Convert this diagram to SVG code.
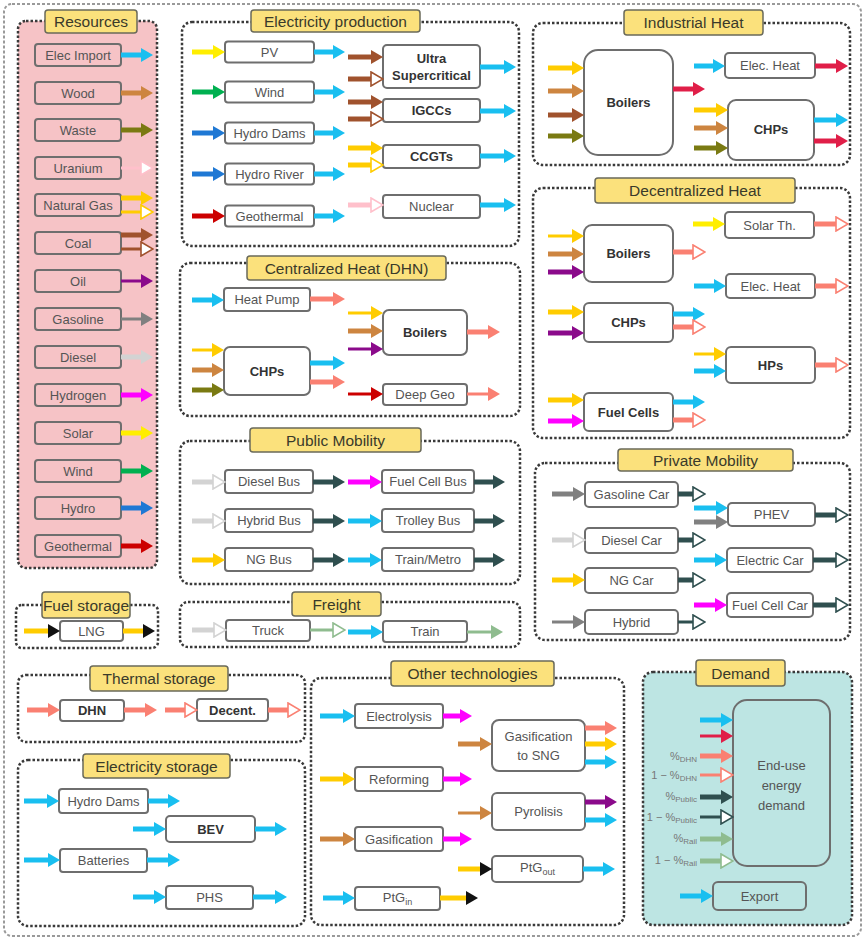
<svg xmlns="http://www.w3.org/2000/svg" width="865" height="941" viewBox="0 0 865 941">
<style>
.grp{fill:none;stroke:#3a3a3a;stroke-width:2.5;stroke-dasharray:2.5 2}
.ttl{fill:#fbe17c;stroke:#6a6a5a;stroke-width:1.5}
.ttx{font-family:"Liberation Sans",Arial,sans-serif;font-size:15.5px;fill:#3a3a2a;text-anchor:middle}
.n{fill:#fff;stroke:#6e6e6e;stroke-width:2}
.np{fill:#f6c3c6;stroke:#6e6e6e;stroke-width:2}
.nd{fill:#bde5e3;stroke:#6e6e6e;stroke-width:2}
.l{font-family:"Liberation Sans",Arial,sans-serif;font-size:13px;fill:#555;text-anchor:middle}
.b{font-family:"Liberation Sans",Arial,sans-serif;font-size:13px;font-weight:bold;fill:#333;text-anchor:middle}
.pc{font-family:"Liberation Sans",Arial,sans-serif;font-size:11px;fill:#777;text-anchor:end}
.a{fill:none;stroke-width:5}
.t{fill:none;stroke-width:3}
.elec{stroke:#19bff0}.wood{stroke:#cd8540}.waste{stroke:#7a7a12}.uran{stroke:#ffc0cb}.gas{stroke:#ffcc00}
.coal{stroke:#a0522d}.oil{stroke:#8b0a8b}.gasl{stroke:#808080}.dies{stroke:#d3d3d3}.h2{stroke:#ff00ff}
.sol{stroke:#ffee00}.wind{stroke:#00b050}.hydro{stroke:#1f78d4}.geo{stroke:#cc0000}.hth{stroke:#e01e48}
.lth{stroke:#fa8072}.mob{stroke:#2f4f4f}.frt{stroke:#8fbc8f}
</style>
<defs>
<marker id="f-elec" viewBox="0 0 12 14" refX="3" refY="7" markerWidth="12" markerHeight="14" markerUnits="userSpaceOnUse" orient="auto"><path d="M0 0L12 7L0 14z" fill="#19bff0"/></marker>
<marker id="f-wood" viewBox="0 0 12 14" refX="3" refY="7" markerWidth="12" markerHeight="14" markerUnits="userSpaceOnUse" orient="auto"><path d="M0 0L12 7L0 14z" fill="#cd8540"/></marker>
<marker id="f-waste" viewBox="0 0 12 14" refX="3" refY="7" markerWidth="12" markerHeight="14" markerUnits="userSpaceOnUse" orient="auto"><path d="M0 0L12 7L0 14z" fill="#7a7a12"/></marker>
<marker id="f-gas" viewBox="0 0 12 14" refX="3" refY="7" markerWidth="12" markerHeight="14" markerUnits="userSpaceOnUse" orient="auto"><path d="M0 0L12 7L0 14z" fill="#ffcc00"/></marker>
<marker id="f-coal" viewBox="0 0 12 14" refX="3" refY="7" markerWidth="12" markerHeight="14" markerUnits="userSpaceOnUse" orient="auto"><path d="M0 0L12 7L0 14z" fill="#a0522d"/></marker>
<marker id="f-oil" viewBox="0 0 12 14" refX="3" refY="7" markerWidth="12" markerHeight="14" markerUnits="userSpaceOnUse" orient="auto"><path d="M0 0L12 7L0 14z" fill="#8b0a8b"/></marker>
<marker id="f-gasl" viewBox="0 0 12 14" refX="3" refY="7" markerWidth="12" markerHeight="14" markerUnits="userSpaceOnUse" orient="auto"><path d="M0 0L12 7L0 14z" fill="#808080"/></marker>
<marker id="f-dies" viewBox="0 0 12 14" refX="3" refY="7" markerWidth="12" markerHeight="14" markerUnits="userSpaceOnUse" orient="auto"><path d="M0 0L12 7L0 14z" fill="#d3d3d3"/></marker>
<marker id="f-h2" viewBox="0 0 12 14" refX="3" refY="7" markerWidth="12" markerHeight="14" markerUnits="userSpaceOnUse" orient="auto"><path d="M0 0L12 7L0 14z" fill="#ff00ff"/></marker>
<marker id="f-sol" viewBox="0 0 12 14" refX="3" refY="7" markerWidth="12" markerHeight="14" markerUnits="userSpaceOnUse" orient="auto"><path d="M0 0L12 7L0 14z" fill="#ffee00"/></marker>
<marker id="f-wind" viewBox="0 0 12 14" refX="3" refY="7" markerWidth="12" markerHeight="14" markerUnits="userSpaceOnUse" orient="auto"><path d="M0 0L12 7L0 14z" fill="#00b050"/></marker>
<marker id="f-hydro" viewBox="0 0 12 14" refX="3" refY="7" markerWidth="12" markerHeight="14" markerUnits="userSpaceOnUse" orient="auto"><path d="M0 0L12 7L0 14z" fill="#1f78d4"/></marker>
<marker id="f-geo" viewBox="0 0 12 14" refX="3" refY="7" markerWidth="12" markerHeight="14" markerUnits="userSpaceOnUse" orient="auto"><path d="M0 0L12 7L0 14z" fill="#cc0000"/></marker>
<marker id="f-hth" viewBox="0 0 12 14" refX="3" refY="7" markerWidth="12" markerHeight="14" markerUnits="userSpaceOnUse" orient="auto"><path d="M0 0L12 7L0 14z" fill="#e01e48"/></marker>
<marker id="f-lth" viewBox="0 0 12 14" refX="3" refY="7" markerWidth="12" markerHeight="14" markerUnits="userSpaceOnUse" orient="auto"><path d="M0 0L12 7L0 14z" fill="#fa8072"/></marker>
<marker id="f-mob" viewBox="0 0 12 14" refX="3" refY="7" markerWidth="12" markerHeight="14" markerUnits="userSpaceOnUse" orient="auto"><path d="M0 0L12 7L0 14z" fill="#2f4f4f"/></marker>
<marker id="f-frt" viewBox="0 0 12 14" refX="3" refY="7" markerWidth="12" markerHeight="14" markerUnits="userSpaceOnUse" orient="auto"><path d="M0 0L12 7L0 14z" fill="#8fbc8f"/></marker>
<marker id="f-blk" viewBox="0 0 12 14" refX="3" refY="7" markerWidth="12" markerHeight="14" markerUnits="userSpaceOnUse" orient="auto"><path d="M0 0L12 7L0 14z" fill="#111"/></marker>
<marker id="h-uran" viewBox="-1 -1 14 16" refX="3" refY="7" markerWidth="14" markerHeight="16" markerUnits="userSpaceOnUse" orient="auto"><path d="M0 0L12 7L0 14z" fill="#fff" stroke="#ffc0cb" stroke-width="1.6"/></marker>
<marker id="h-gas" viewBox="-1 -1 14 16" refX="3" refY="7" markerWidth="14" markerHeight="16" markerUnits="userSpaceOnUse" orient="auto"><path d="M0 0L12 7L0 14z" fill="#fff" stroke="#ffcc00" stroke-width="1.6"/></marker>
<marker id="h-coal" viewBox="-1 -1 14 16" refX="3" refY="7" markerWidth="14" markerHeight="16" markerUnits="userSpaceOnUse" orient="auto"><path d="M0 0L12 7L0 14z" fill="#fff" stroke="#a0522d" stroke-width="1.6"/></marker>
<marker id="h-dies" viewBox="-1 -1 14 16" refX="3" refY="7" markerWidth="14" markerHeight="16" markerUnits="userSpaceOnUse" orient="auto"><path d="M0 0L12 7L0 14z" fill="#fff" stroke="#d3d3d3" stroke-width="1.6"/></marker>
<marker id="h-lth" viewBox="-1 -1 14 16" refX="3" refY="7" markerWidth="14" markerHeight="16" markerUnits="userSpaceOnUse" orient="auto"><path d="M0 0L12 7L0 14z" fill="#fff" stroke="#fa8072" stroke-width="1.6"/></marker>
<marker id="h-mob" viewBox="-1 -1 14 16" refX="3" refY="7" markerWidth="14" markerHeight="16" markerUnits="userSpaceOnUse" orient="auto"><path d="M0 0L12 7L0 14z" fill="#fff" stroke="#2f4f4f" stroke-width="1.6"/></marker>
<marker id="h-frt" viewBox="-1 -1 14 16" refX="3" refY="7" markerWidth="14" markerHeight="16" markerUnits="userSpaceOnUse" orient="auto"><path d="M0 0L12 7L0 14z" fill="#fff" stroke="#8fbc8f" stroke-width="1.6"/></marker>
</defs>

<rect x="4" y="4" width="857" height="932" rx="8" fill="#fff" stroke="#9a9a9a" stroke-width="2" stroke-dasharray="3 2"/>

<g id="frames">
<rect x="18" y="21" width="139" height="547" rx="8" class="grp" style="fill:#f6c3c6"/>
<rect x="182" y="22" width="337" height="224" rx="10" class="grp"/>
<rect x="533" y="23" width="317" height="142" rx="10" class="grp"/>
<rect x="533" y="188" width="317" height="250" rx="10" class="grp"/>
<rect x="180" y="263" width="340" height="153" rx="10" class="grp"/>
<rect x="180" y="441" width="340" height="143" rx="10" class="grp"/>
<rect x="180" y="602" width="340" height="45" rx="8" class="grp"/>
<rect x="535" y="463" width="315" height="177" rx="10" class="grp"/>
<rect x="16" y="605" width="142" height="43" rx="6" class="grp"/>
<rect x="18" y="675" width="287" height="67" rx="8" class="grp"/>
<rect x="18" y="760" width="287" height="166" rx="10" class="grp"/>
<rect x="311" y="678" width="313" height="247" rx="10" class="grp"/>
<rect x="643" y="672" width="209" height="253" rx="10" class="grp" style="fill:#bde5e3"/>
</g>

<g id="titles">
<rect x="45" y="10" width="92" height="23" rx="3" class="ttl"/><text x="91" y="27" class="ttx">Resources</text>
<rect x="251" y="10" width="169" height="22" rx="3" class="ttl"/><text x="335.5" y="26.5" class="ttx">Electricity production</text>
<rect x="624" y="10" width="139" height="25" rx="3" class="ttl"/><text x="693.5" y="28" class="ttx">Industrial Heat</text>
<rect x="595" y="178" width="200" height="25" rx="3" class="ttl"/><text x="695" y="196" class="ttx">Decentralized Heat</text>
<rect x="247" y="256" width="199" height="24" rx="3" class="ttl"/><text x="346.5" y="273.5" class="ttx">Centralized Heat (DHN)</text>
<rect x="250" y="428" width="171" height="24" rx="3" class="ttl"/><text x="335.5" y="445.5" class="ttx">Public Mobility</text>
<rect x="618" y="449" width="175" height="22" rx="3" class="ttl"/><text x="705.5" y="465.5" class="ttx">Private Mobility</text>
<rect x="292" y="592" width="89" height="24" rx="3" class="ttl"/><text x="336.5" y="609.5" class="ttx">Freight</text>
<rect x="42" y="592" width="88" height="26" rx="3" class="ttl"/><text x="86" y="610.5" class="ttx">Fuel storage</text>
<rect x="90" y="666" width="138" height="25" rx="3" class="ttl"/><text x="159" y="684" class="ttx">Thermal storage</text>
<rect x="83" y="754" width="147" height="24" rx="3" class="ttl"/><text x="156.5" y="771.5" class="ttx">Electricity storage</text>
<rect x="391" y="661" width="163" height="25" rx="3" class="ttl"/><text x="472.5" y="679" class="ttx">Other technologies</text>
<rect x="696" y="660" width="89" height="26" rx="3" class="ttl"/><text x="740.5" y="678.5" class="ttx">Demand</text>
</g>

<g id="res-elec"><rect x="35" y="44" width="86" height="22" rx="3" class="np"/><text x="78" y="59.5" class="l">Elec Import</text></g>
<g id="res-wood"><rect x="35" y="82" width="86" height="22" rx="3" class="np"/><text x="78" y="97.5" class="l">Wood</text></g>
<g id="res-waste"><rect x="35" y="119" width="86" height="22" rx="3" class="np"/><text x="78" y="134.5" class="l">Waste</text></g>
<g id="res-uranium"><rect x="35" y="157" width="86" height="22" rx="3" class="np"/><text x="78" y="172.5" class="l">Uranium</text></g>
<g id="res-ng"><rect x="35" y="194" width="86" height="22" rx="3" class="np"/><text x="78" y="209.5" class="l">Natural Gas</text></g>
<g id="res-coal"><rect x="35" y="232" width="86" height="22" rx="3" class="np"/><text x="78" y="247.5" class="l">Coal</text></g>
<g id="res-oil"><rect x="35" y="270" width="86" height="22" rx="3" class="np"/><text x="78" y="285.5" class="l">Oil</text></g>
<g id="res-gasoline"><rect x="35" y="308" width="86" height="22" rx="3" class="np"/><text x="78" y="323.5" class="l">Gasoline</text></g>
<g id="res-diesel"><rect x="35" y="346" width="86" height="22" rx="3" class="np"/><text x="78" y="361.5" class="l">Diesel</text></g>
<g id="res-h2"><rect x="35" y="384" width="86" height="22" rx="3" class="np"/><text x="78" y="399.5" class="l">Hydrogen</text></g>
<g id="res-solar"><rect x="35" y="422" width="86" height="22" rx="3" class="np"/><text x="78" y="437.5" class="l">Solar</text></g>
<g id="res-wind"><rect x="35" y="460" width="86" height="22" rx="3" class="np"/><text x="78" y="475.5" class="l">Wind</text></g>
<g id="res-hydro"><rect x="35" y="497" width="86" height="22" rx="3" class="np"/><text x="78" y="512.5" class="l">Hydro</text></g>
<g id="res-geo"><rect x="35" y="535" width="86" height="22" rx="3" class="np"/><text x="78" y="550.5" class="l">Geothermal</text></g>

<g id="ep-pv"><rect x="225" y="41.5" width="89" height="21" rx="3" class="n"/><text x="269.5" y="56.5" class="l">PV</text></g>
<g id="ep-wind"><rect x="225" y="81.5" width="89" height="21" rx="3" class="n"/><text x="269.5" y="96.5" class="l">Wind</text></g>
<g id="ep-dam"><rect x="225" y="122.5" width="89" height="21" rx="3" class="n"/><text x="269.5" y="137.5" class="l">Hydro Dams</text></g>
<g id="ep-river"><rect x="225" y="163.5" width="89" height="21" rx="3" class="n"/><text x="269.5" y="178.5" class="l">Hydro River</text></g>
<g id="ep-geo"><rect x="225" y="205.5" width="89" height="21" rx="3" class="n"/><text x="269.5" y="220.5" class="l">Geothermal</text></g>
<g id="ep-usc"><rect x="383" y="45" width="97" height="43" rx="4" class="n"/><text x="431.5" y="63" class="b">Ultra</text><text x="431.5" y="80" class="b">Supercritical</text></g>
<g id="ep-igcc"><rect x="383" y="99" width="97" height="23" rx="3" class="n"/><text x="431.5" y="115" class="b">IGCCs</text></g>
<g id="ep-ccgt"><rect x="383" y="145" width="97" height="23" rx="3" class="n"/><text x="431.5" y="161" class="b">CCGTs</text></g>
<g id="ep-nuc"><rect x="383" y="195" width="97" height="23" rx="3" class="n"/><text x="431.5" y="211" class="l">Nuclear</text></g>

<g id="ih-boilers"><rect x="584" y="50" width="89" height="105" rx="14" class="n"/><text x="628.5" y="107" class="b">Boilers</text></g>
<g id="ih-elec"><rect x="725" y="53" width="90" height="25" rx="4" class="n"/><text x="770" y="70" class="l">Elec. Heat</text></g>
<g id="ih-chp"><rect x="728" y="100" width="86" height="60" rx="8" class="n"/><text x="771" y="134" class="b">CHPs</text></g>

<g id="dh-boilers"><rect x="584" y="225" width="89" height="57" rx="8" class="n"/><text x="628.5" y="258" class="b">Boilers</text></g>
<g id="dh-chp"><rect x="584" y="303" width="89" height="39" rx="5" class="n"/><text x="628.5" y="327" class="b">CHPs</text></g>
<g id="dh-fc"><rect x="584" y="393" width="89" height="38" rx="5" class="n"/><text x="628.5" y="417" class="b">Fuel Cells</text></g>
<g id="dh-solar"><rect x="725" y="212" width="89" height="26" rx="4" class="n"/><text x="769.5" y="229.5" class="l">Solar Th.</text></g>
<g id="dh-elec"><rect x="726" y="274" width="89" height="24" rx="4" class="n"/><text x="770.5" y="290.5" class="l">Elec. Heat</text></g>
<g id="dh-hp"><rect x="726" y="347" width="89" height="36" rx="5" class="n"/><text x="770.5" y="370" class="b">HPs</text></g>

<g id="ch-hp"><rect x="224" y="288" width="86" height="23" rx="3" class="n"/><text x="267" y="304" class="l">Heat Pump</text></g>
<g id="ch-chp"><rect x="224" y="347" width="86" height="48" rx="6" class="n"/><text x="267" y="376" class="b">CHPs</text></g>
<g id="ch-boilers"><rect x="383" y="310" width="84" height="45" rx="6" class="n"/><text x="425" y="337" class="b">Boilers</text></g>
<g id="ch-geo"><rect x="383" y="384" width="84" height="21" rx="3" class="n"/><text x="425" y="399" class="l">Deep Geo</text></g>

<g id="pm-diesel"><rect x="225" y="470" width="88" height="23" rx="3" class="n"/><text x="269" y="486" class="l">Diesel Bus</text></g>
<g id="pm-hybrid"><rect x="225" y="509" width="88" height="23" rx="3" class="n"/><text x="269" y="525" class="l">Hybrid Bus</text></g>
<g id="pm-ng"><rect x="225" y="548" width="88" height="23" rx="3" class="n"/><text x="269" y="564" class="l">NG Bus</text></g>
<g id="pm-fc"><rect x="382" y="470" width="92" height="23" rx="3" class="n"/><text x="428" y="486" class="l">Fuel Cell Bus</text></g>
<g id="pm-trolley"><rect x="382" y="509" width="92" height="23" rx="3" class="n"/><text x="428" y="525" class="l">Trolley Bus</text></g>
<g id="pm-train"><rect x="382" y="548" width="92" height="23" rx="3" class="n"/><text x="428" y="564" class="l">Train/Metro</text></g>

<g id="fr-truck"><rect x="226" y="620" width="84" height="21" rx="3" class="n"/><text x="268" y="635" class="l">Truck</text></g>
<g id="fr-train"><rect x="383" y="621" width="84" height="21" rx="3" class="n"/><text x="425" y="636" class="l">Train</text></g>

<g id="pv-gasoline"><rect x="585" y="482" width="93" height="25" rx="4" class="n"/><text x="631.5" y="499" class="l">Gasoline Car</text></g>
<g id="pv-diesel"><rect x="585" y="528" width="93" height="25" rx="4" class="n"/><text x="631.5" y="545" class="l">Diesel Car</text></g>
<g id="pv-ng"><rect x="585" y="568" width="93" height="25" rx="4" class="n"/><text x="631.5" y="585" class="l">NG Car</text></g>
<g id="pv-hybrid"><rect x="585" y="610" width="93" height="24" rx="4" class="n"/><text x="631.5" y="626.5" class="l">Hybrid</text></g>
<g id="pv-phev"><rect x="728" y="503" width="87" height="23" rx="4" class="n"/><text x="771.5" y="519" class="l">PHEV</text></g>
<g id="pv-elec"><rect x="727" y="548" width="86" height="24" rx="4" class="n"/><text x="770" y="564.5" class="l">Electric Car</text></g>
<g id="pv-fc"><rect x="727" y="593" width="86" height="24" rx="4" class="n"/><text x="770" y="609.5" class="l">Fuel Cell Car</text></g>

<g id="fs-lng"><rect x="60" y="621" width="63" height="20" rx="3" class="n"/><text x="91.5" y="635.5" class="l">LNG</text></g>

<g id="ts-dhn"><rect x="60" y="700" width="64" height="21" rx="3" class="n"/><text x="92" y="715" class="b">DHN</text></g>
<g id="ts-dec"><rect x="197" y="699" width="71" height="22" rx="3" class="n"/><text x="232.5" y="714.5" class="b">Decent.</text></g>

<g id="es-dam"><rect x="59" y="789" width="89" height="24" rx="3" class="n"/><text x="103.5" y="805.5" class="l">Hydro Dams</text></g>
<g id="es-bev"><rect x="166" y="816" width="89" height="26" rx="4" class="n"/><text x="210.5" y="833.5" class="b">BEV</text></g>
<g id="es-bat"><rect x="60" y="849" width="87" height="23" rx="3" class="n"/><text x="103.5" y="865" class="l">Batteries</text></g>
<g id="es-phs"><rect x="166" y="886" width="87" height="23" rx="3" class="n"/><text x="209.5" y="902" class="l">PHS</text></g>

<g id="ot-elys"><rect x="355" y="704" width="88" height="24" rx="3" class="n"/><text x="399" y="720.5" class="l">Electrolysis</text></g>
<g id="ot-ref"><rect x="355" y="767" width="88" height="24" rx="3" class="n"/><text x="399" y="783.5" class="l">Reforming</text></g>
<g id="ot-gasif"><rect x="355" y="827" width="88" height="24" rx="3" class="n"/><text x="399" y="843.5" class="l">Gasification</text></g>
<g id="ot-ptgin"><rect x="355" y="887" width="85" height="23" rx="3" class="n"/><text x="397.5" y="902" class="l">PtG<tspan font-size="9" dy="3">in</tspan></text></g>
<g id="ot-sng"><rect x="492" y="720" width="93" height="51" rx="7" class="n"/><text x="538.5" y="741" class="l">Gasification</text><text x="538.5" y="760" class="l">to SNG</text></g>
<g id="ot-pyro"><rect x="492" y="793" width="93" height="37" rx="5" class="n"/><text x="538.5" y="816" class="l">Pyrolisis</text></g>
<g id="ot-ptgout"><rect x="492" y="856" width="91" height="26" rx="4" class="n"/><text x="537.5" y="872" class="l">PtG<tspan font-size="9" dy="3">out</tspan></text></g>

<g id="dm-enduse"><rect x="733" y="700" width="97" height="166" rx="14" class="nd"/><text x="781.5" y="770" class="l">End-use</text><text x="781.5" y="790" class="l">energy</text><text x="781.5" y="810" class="l">demand</text></g>
<g id="dm-export"><rect x="713" y="882" width="93" height="28" rx="5" class="nd"/><text x="759.5" y="900.5" class="l">Export</text></g>
<g id="dm-labels">
<text x="697" y="760" class="pc">%<tspan font-size="8" dy="2">DHN</tspan></text>
<text x="697" y="779" class="pc">1 − %<tspan font-size="8" dy="2">DHN</tspan></text>
<text x="697" y="800" class="pc">%<tspan font-size="8" dy="2">Public</tspan></text>
<text x="697" y="821" class="pc">1 − %<tspan font-size="8" dy="2">Public</tspan></text>
<text x="697" y="842" class="pc">%<tspan font-size="8" dy="2">Rail</tspan></text>
<text x="697" y="864" class="pc">1 − %<tspan font-size="8" dy="2">Rail</tspan></text>
</g>

<g id="connectors">
<path class="a elec" d="M121 55H144" marker-end="url(#f-elec)"/>
<path class="a wood" d="M121 93H144" marker-end="url(#f-wood)"/>
<path class="a waste" d="M121 130H144" marker-end="url(#f-waste)"/>
<path class="t uran" d="M121 168H144" marker-end="url(#h-uran)"/>
<path class="a gas" d="M121 198H144" marker-end="url(#f-gas)"/>
<path class="t gas" d="M121 212H144" marker-end="url(#h-gas)"/>
<path class="a coal" d="M121 235H144" marker-end="url(#f-coal)"/>
<path class="t coal" d="M121 249H144" marker-end="url(#h-coal)"/>
<path class="t oil" d="M121 281H144" marker-end="url(#f-oil)"/>
<path class="t gasl" d="M121 319H144" marker-end="url(#f-gasl)"/>
<path class="a dies" d="M121 357H144" marker-end="url(#f-dies)"/>
<path class="a h2" d="M121 395H144" marker-end="url(#f-h2)"/>
<path class="a sol" d="M121 433H144" marker-end="url(#f-sol)"/>
<path class="a wind" d="M121 471H144" marker-end="url(#f-wind)"/>
<path class="a hydro" d="M121 508H144" marker-end="url(#f-hydro)"/>
<path class="a geo" d="M121 546H144" marker-end="url(#f-geo)"/>
<path class="a sol" d="M192 52H216" marker-end="url(#f-sol)"/>
<path class="a wind" d="M192 92H216" marker-end="url(#f-wind)"/>
<path class="a hydro" d="M192 133H216" marker-end="url(#f-hydro)"/>
<path class="a hydro" d="M192 174H216" marker-end="url(#f-hydro)"/>
<path class="a geo" d="M192 216H216" marker-end="url(#f-geo)"/>
<path class="a elec" d="M314 52H336" marker-end="url(#f-elec)"/>
<path class="a elec" d="M314 92H336" marker-end="url(#f-elec)"/>
<path class="a elec" d="M314 133H336" marker-end="url(#f-elec)"/>
<path class="a elec" d="M314 174H336" marker-end="url(#f-elec)"/>
<path class="a elec" d="M314 216H336" marker-end="url(#f-elec)"/>
<path class="a coal" d="M348 57H374" marker-end="url(#f-coal)"/>
<path class="a coal" d="M348 79H374" marker-end="url(#h-coal)"/>
<path class="a coal" d="M348 102H374" marker-end="url(#f-coal)"/>
<path class="a coal" d="M348 119H374" marker-end="url(#h-coal)"/>
<path class="a gas" d="M348 148H374" marker-end="url(#f-gas)"/>
<path class="a gas" d="M348 165H374" marker-end="url(#h-gas)"/>
<path class="a uran" d="M348 205H374" marker-end="url(#h-uran)"/>
<path class="a elec" d="M480 67H507" marker-end="url(#f-elec)"/>
<path class="a elec" d="M480 111H507" marker-end="url(#f-elec)"/>
<path class="a elec" d="M480 156H507" marker-end="url(#f-elec)"/>
<path class="a elec" d="M480 205H507" marker-end="url(#f-elec)"/>
<path class="a gas" d="M548 68H575" marker-end="url(#f-gas)"/>
<path class="a wood" d="M548 91H575" marker-end="url(#f-wood)"/>
<path class="a coal" d="M548 115H575" marker-end="url(#f-coal)"/>
<path class="a waste" d="M548 136H575" marker-end="url(#f-waste)"/>
<path class="a hth" d="M673 89H696" marker-end="url(#f-hth)"/>
<path class="a elec" d="M694 66H716" marker-end="url(#f-elec)"/>
<path class="a hth" d="M815 66H839" marker-end="url(#f-hth)"/>
<path class="a gas" d="M694 110H719" marker-end="url(#f-gas)"/>
<path class="a wood" d="M694 128H719" marker-end="url(#f-wood)"/>
<path class="a waste" d="M694 148H719" marker-end="url(#f-waste)"/>
<path class="a elec" d="M814 120H839" marker-end="url(#f-elec)"/>
<path class="a hth" d="M814 141H839" marker-end="url(#f-hth)"/>
<path class="t gas" d="M548 236H575" marker-end="url(#f-gas)"/>
<path class="a wood" d="M548 254H575" marker-end="url(#f-wood)"/>
<path class="a oil" d="M548 272H575" marker-end="url(#f-oil)"/>
<path class="a lth" d="M673 252H696" marker-end="url(#h-lth)"/>
<path class="a gas" d="M548 312H575" marker-end="url(#f-gas)"/>
<path class="a oil" d="M548 333H575" marker-end="url(#f-oil)"/>
<path class="a elec" d="M673 314H696" marker-end="url(#f-elec)"/>
<path class="a lth" d="M673 327H696" marker-end="url(#h-lth)"/>
<path class="a gas" d="M548 400H575" marker-end="url(#f-gas)"/>
<path class="a h2" d="M548 421H575" marker-end="url(#f-h2)"/>
<path class="a elec" d="M673 402H696" marker-end="url(#f-elec)"/>
<path class="a lth" d="M673 420H696" marker-end="url(#h-lth)"/>
<path class="a sol" d="M693 224H716" marker-end="url(#f-sol)"/>
<path class="a lth" d="M814 224H839" marker-end="url(#h-lth)"/>
<path class="a elec" d="M694 286H717" marker-end="url(#f-elec)"/>
<path class="a lth" d="M815 286H839" marker-end="url(#h-lth)"/>
<path class="t gas" d="M694 354H717" marker-end="url(#f-gas)"/>
<path class="a elec" d="M694 371H717" marker-end="url(#f-elec)"/>
<path class="a lth" d="M815 365H839" marker-end="url(#h-lth)"/>
<path class="a elec" d="M192 300H215" marker-end="url(#f-elec)"/>
<path class="a lth" d="M310 299H336" marker-end="url(#f-lth)"/>
<path class="t gas" d="M192 350H215" marker-end="url(#f-gas)"/>
<path class="a wood" d="M192 370H215" marker-end="url(#f-wood)"/>
<path class="a waste" d="M192 390H215" marker-end="url(#f-waste)"/>
<path class="a elec" d="M310 363H336" marker-end="url(#f-elec)"/>
<path class="a lth" d="M310 382H336" marker-end="url(#f-lth)"/>
<path class="t gas" d="M348 313H374" marker-end="url(#f-gas)"/>
<path class="a wood" d="M348 331H374" marker-end="url(#f-wood)"/>
<path class="t oil" d="M348 349H374" marker-end="url(#f-oil)"/>
<path class="a lth" d="M467 332H491" marker-end="url(#f-lth)"/>
<path class="t geo" d="M348 394H374" marker-end="url(#f-geo)"/>
<path class="t lth" d="M467 394H491" marker-end="url(#f-lth)"/>
<path class="a dies" d="M192 482H216" marker-end="url(#h-dies)"/>
<path class="a dies" d="M192 521H216" marker-end="url(#h-dies)"/>
<path class="a gas" d="M192 560H216" marker-end="url(#f-gas)"/>
<path class="a mob" d="M313 482H336" marker-end="url(#f-mob)"/>
<path class="a mob" d="M313 521H336" marker-end="url(#f-mob)"/>
<path class="a mob" d="M313 560H336" marker-end="url(#f-mob)"/>
<path class="a h2" d="M348 482H373" marker-end="url(#f-h2)"/>
<path class="a elec" d="M348 521H373" marker-end="url(#f-elec)"/>
<path class="a elec" d="M348 560H373" marker-end="url(#f-elec)"/>
<path class="a mob" d="M474 482H496" marker-end="url(#f-mob)"/>
<path class="a mob" d="M474 521H496" marker-end="url(#f-mob)"/>
<path class="a mob" d="M474 560H496" marker-end="url(#f-mob)"/>
<path class="a dies" d="M192 630H217" marker-end="url(#h-dies)"/>
<path class="t frt" d="M310 630H336" marker-end="url(#h-frt)"/>
<path class="a elec" d="M348 632H374" marker-end="url(#f-elec)"/>
<path class="t frt" d="M467 632H494" marker-end="url(#f-frt)"/>
<path class="a gasl" d="M552 494H576" marker-end="url(#f-gasl)"/>
<path class="a dies" d="M552 540H576" marker-end="url(#h-dies)"/>
<path class="a gas" d="M552 580H576" marker-end="url(#f-gas)"/>
<path class="t gasl" d="M552 622H576" marker-end="url(#f-gasl)"/>
<path class="a mob" d="M678 494H696" marker-end="url(#h-mob)"/>
<path class="a mob" d="M678 540H696" marker-end="url(#h-mob)"/>
<path class="a mob" d="M678 580H696" marker-end="url(#h-mob)"/>
<path class="t mob" d="M678 622H696" marker-end="url(#h-mob)"/>
<path class="a elec" d="M694 508H719" marker-end="url(#f-elec)"/>
<path class="a gasl" d="M694 522H719" marker-end="url(#f-gasl)"/>
<path class="a mob" d="M815 515H839" marker-end="url(#h-mob)"/>
<path class="a elec" d="M694 560H718" marker-end="url(#f-elec)"/>
<path class="a mob" d="M813 560H839" marker-end="url(#h-mob)"/>
<path class="a h2" d="M694 605H718" marker-end="url(#f-h2)"/>
<path class="a mob" d="M813 605H839" marker-end="url(#h-mob)"/>
<path class="a gas" d="M24 631H51" marker-end="url(#f-blk)"/>
<path class="a gas" d="M123 631H146" marker-end="url(#f-blk)"/>
<path class="a lth" d="M27 710H51" marker-end="url(#f-lth)"/>
<path class="a lth" d="M124 710H148" marker-end="url(#f-lth)"/>
<path class="a lth" d="M165 710H188" marker-end="url(#h-lth)"/>
<path class="a lth" d="M268 710H291" marker-end="url(#h-lth)"/>
<path class="a elec" d="M24 801H50" marker-end="url(#f-elec)"/>
<path class="a elec" d="M148 801H171" marker-end="url(#f-elec)"/>
<path class="a elec" d="M133 829H157" marker-end="url(#f-elec)"/>
<path class="a elec" d="M255 829H278" marker-end="url(#f-elec)"/>
<path class="a elec" d="M24 860H51" marker-end="url(#f-elec)"/>
<path class="a elec" d="M147 860H171" marker-end="url(#f-elec)"/>
<path class="a elec" d="M133 897H157" marker-end="url(#f-elec)"/>
<path class="a elec" d="M253 897H278" marker-end="url(#f-elec)"/>
<path class="a elec" d="M320 716H346" marker-end="url(#f-elec)"/>
<path class="a h2" d="M443 716H463" marker-end="url(#f-h2)"/>
<path class="a gas" d="M320 779H346" marker-end="url(#f-gas)"/>
<path class="a h2" d="M443 779H463" marker-end="url(#f-h2)"/>
<path class="a wood" d="M320 839H346" marker-end="url(#f-wood)"/>
<path class="a h2" d="M443 839H463" marker-end="url(#f-h2)"/>
<path class="a elec" d="M323 898H346" marker-end="url(#f-elec)"/>
<path class="a gas" d="M440 898H469" marker-end="url(#f-blk)"/>
<path class="a wood" d="M458 744H483" marker-end="url(#f-wood)"/>
<path class="a lth" d="M585 728H608" marker-end="url(#f-lth)"/>
<path class="a gas" d="M585 744H608" marker-end="url(#f-gas)"/>
<path class="a elec" d="M585 762H608" marker-end="url(#f-elec)"/>
<path class="t wood" d="M458 813H483" marker-end="url(#f-wood)"/>
<path class="a oil" d="M585 802H608" marker-end="url(#f-oil)"/>
<path class="a elec" d="M585 820H608" marker-end="url(#f-elec)"/>
<path class="a gas" d="M458 869H483" marker-end="url(#f-blk)"/>
<path class="a elec" d="M583 869H606" marker-end="url(#f-elec)"/>
<path class="a elec" d="M700 720H724" marker-end="url(#f-elec)"/>
<path class="t hth" d="M700 736H724" marker-end="url(#f-hth)"/>
<path class="a lth" d="M700 756H724" marker-end="url(#f-lth)"/>
<path class="t lth" d="M700 775H724" marker-end="url(#h-lth)"/>
<path class="a mob" d="M700 797H724" marker-end="url(#f-mob)"/>
<path class="t mob" d="M700 817H724" marker-end="url(#h-mob)"/>
<path class="a frt" d="M700 839H724" marker-end="url(#f-frt)"/>
<path class="a frt" d="M700 861H724" marker-end="url(#h-frt)"/>
<path class="a elec" d="M680 896H704" marker-end="url(#f-elec)"/>
</g>
</svg>
